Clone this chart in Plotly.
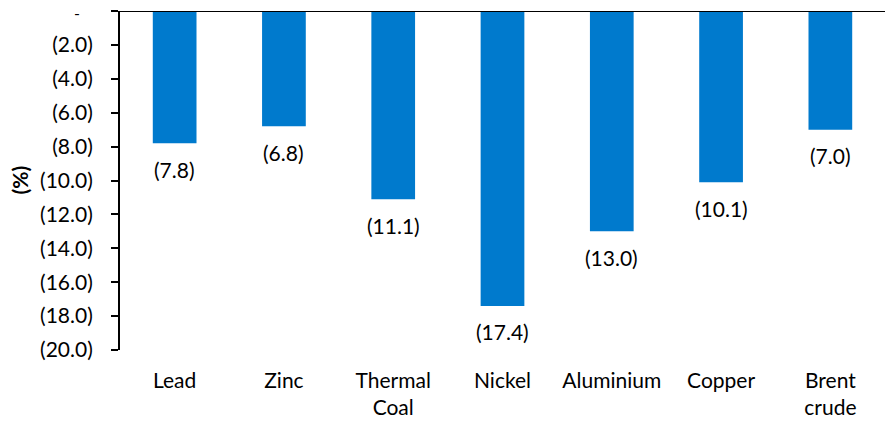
import plotly.graph_objects as go

categories = ["Lead", "Zinc", "Thermal<br>Coal", "Nickel", "Aluminium", "Copper", "Brent<br>crude"]
values = [-7.8, -6.8, -11.1, -17.4, -13.0, -10.1, -7.0]
y_tickvals = [0, -2, -4, -6, -8, -10, -12, -14, -16, -18, -20]
y_ticktext = ["", "(2.0)", "(4.0)", "(6.0)", "(8.0)", "(10.0)", "(12.0)", "(14.0)", "(16.0)", "(18.0)", "(20.0)"]
zero_label = "-"

FONT = "Lato"
FS = 21
fig = go.Figure()
fig.add_trace(go.Bar(x=categories, y=values, marker=dict(color="#007ACD", line=dict(width=0)),
                     hoverinfo="skip"))

for c, v in zip(categories, values):
    fig.add_annotation(x=c, y=v, text="({:.1f})".format(abs(v)), showarrow=False,
                       yanchor="middle", yshift=-26, font=dict(family=FONT, size=FS, color="black"))

# zero tick label (accounting-style dash)
fig.add_annotation(xref="paper", yref="y", x=(77 - 120) / 765, y=0, text=zero_label,
                   showarrow=False, xanchor="center", yanchor="middle", yshift=-1, borderpad=0,
                   font=dict(family=FONT, size=16, color="black"))

fig.add_annotation(xref="paper", yref="paper", x=(19 - 120) / 765, y=0.5, text="<b>(%)</b>",
                   textangle=-90, showarrow=False, xanchor="center", yanchor="middle",
                   font=dict(family=FONT, size=FS, color="black"))

fig.add_shape(type="line", xref="paper", yref="y", x0=-7 / 765, x1=1, y0=0, y1=0,
              line=dict(color="black", width=2), layer="above")

fig.update_layout(
    width=885, height=421,
    margin=dict(l=120, r=0, t=11, b=71, autoexpand=False),
    paper_bgcolor="white", plot_bgcolor="white",
    bargap=0.6, showlegend=False, hovermode=False,
    font=dict(family=FONT, size=FS, color="black"),
    xaxis=dict(showline=False, showgrid=False, zeroline=False, ticks="", automargin=False,
               tickfont=dict(family=FONT, size=FS, color="black"), ticklabelstandoff=16),
    yaxis=dict(range=[-20, 0], tickvals=y_tickvals, ticktext=y_ticktext, automargin=False,
               showline=True, linecolor="black", linewidth=2, ticks="outside", ticklen=7,
               tickwidth=2, tickcolor="black", showgrid=False, zeroline=False,
               tickfont=dict(family=FONT, size=FS, color="black"), ticklabelstandoff=14),
)

# remove the default 8px page margin so the figure fills the window exactly
fig.write_html("out.html", config={"displayModeBar": False},
               post_script="document.body.style.margin='0px';")
